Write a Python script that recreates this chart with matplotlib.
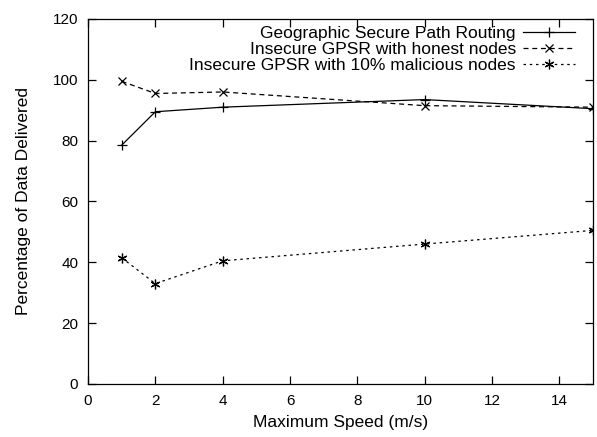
import matplotlib
matplotlib.use("Agg")
import matplotlib.pyplot as plt

plt.rcParams['font.family'] = ['Liberation Sans', 'DejaVu Sans']

x = [1, 2, 4, 10, 15]
secure = [78.5, 89.5, 91, 93.5, 90.5]
honest = [99.5, 95.5, 96, 91.5, 91]
malicious = [41.5, 33, 40.5, 46, 50.5]
labels = ["Geographic Secure Path Routing",
          "Insecure GPSR with honest nodes",
          "Insecure GPSR with 10% malicious nodes"]

fig = plt.figure(figsize=(5.97, 4.37), dpi=100)
ax = fig.add_axes([0.1474, 0.1213, 0.846, 0.8353])
ax.plot(x, secure, '-', color='black', marker='+', ms=7, mew=0.9, lw=0.9, label=labels[0])
ax.plot(x, honest, color='black', ls=(0, (4, 3)), marker='x', ms=6, mew=0.9, lw=0.9, label=labels[1])
ax.plot(x, malicious, color='black', ls=(0, (2, 3)), marker=(6, 2, 0), ms=7, mew=0.9, lw=0.9, label=labels[2])
ax.set_xlim(0, 15)
ax.set_ylim(0, 120)
ax.set_xticks(range(0, 15, 2))
ax.set_yticks(range(0, 121, 20))
ax.tick_params(direction='in', top=True, right=True, labelsize=11, length=6, width=0.9, pad=7)
for s in ax.spines.values():
    s.set_linewidth(0.9)
ax.set_xlabel("Maximum Speed (m/s)", fontsize=12.5, labelpad=5)
ax.set_ylabel("Percentage of Data Delivered", fontsize=12.5, labelpad=16)
ax.legend(loc='upper right', bbox_to_anchor=(0.978, 1.0), frameon=False, markerfirst=False,
          fontsize=12.5, handlelength=3.0, handletextpad=0.4, labelspacing=0.05,
          borderaxespad=0, borderpad=0.4)
fig.savefig("out.png", dpi=100)
